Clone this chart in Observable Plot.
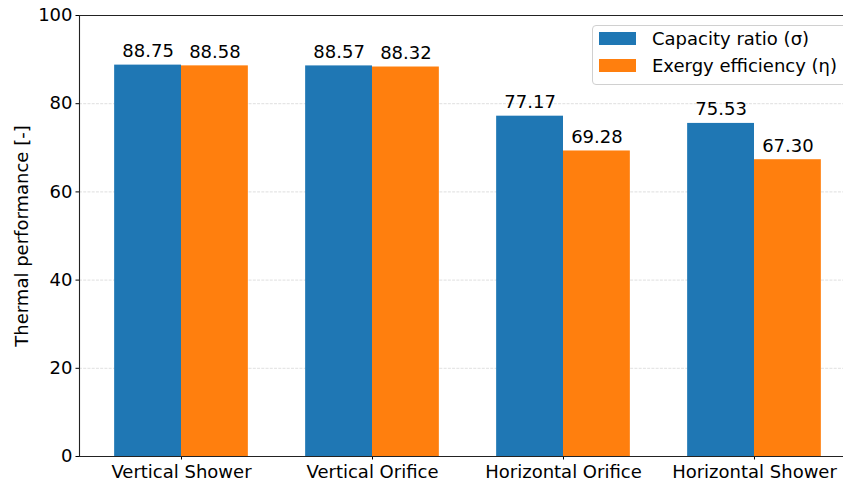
<!DOCTYPE html>
<html>
<head>
<meta charset="utf-8">
<script src="https://cdn.jsdelivr.net/npm/d3@7"></script>
<script src="https://cdn.jsdelivr.net/npm/@observablehq/plot@0.6"></script>
<style>
  html, body { margin: 0; padding: 0; background: #fff; overflow: hidden; }
  #wrap { position: relative; width: 843px; height: 481px; font-family: "DejaVu Sans", sans-serif; }
  #legend { position: absolute; left: 592px; top: 25px; width: 270px; height: 60px;
    border: 1px solid #d0d0d0; border-radius: 4px; background: rgba(255,255,255,0.8); box-sizing: border-box; }
  .row { position: absolute; left: 6px; height: 14px; font-size: 18px; color: #000; white-space: nowrap; }
  .sw { position: absolute; left: 0; top: 0; width: 37px; height: 13px; }
  .lab { position: absolute; left: 53px; top: -3px; line-height: 20px; }
</style>
</head>
<body>
<div id="wrap"></div>
<script>
const categories = ["Vertical Shower", "Vertical Orifice", "Horizontal Orifice", "Horizontal Shower"];
const seriesNames = ["Capacity ratio (σ)", "Exergy efficiency (η)"];
const capacityRatio = [88.75, 88.57, 77.17, 75.53];
const exergyEfficiency = [88.58, 88.32, 69.28, 67.30];
const yTicks = [0, 20, 40, 60, 80, 100];
const colors = ["#1f77b4", "#ff7f0e"];
const barWidth = 0.35;

const rows = [];
categories.forEach((c, i) => {
  rows.push({cat: c, i, s: 0, value: capacityRatio[i]});
  rows.push({cat: c, i, s: 1, value: exergyEfficiency[i]});
});

const FS = 18;

const chart = Plot.plot({
  width: 843,
  height: 481,
  marginLeft: 79,
  marginRight: 0,
  marginTop: 15,
  marginBottom: 25,
  style: {fontFamily: "DejaVu Sans", fontSize: FS + "px", color: "#000", background: "transparent"},
  x: {domain: [-0.534, 3.466], axis: null},
  y: {domain: [0, 100], axis: null},
  marks: [
    Plot.ruleY([20, 40, 60, 80], {stroke: "#b0b0b0", strokeOpacity: 0.5, strokeWidth: 0.8, strokeDasharray: "2.96,1.28"}),
    Plot.rectY(rows, {
      x1: d => d.i + (d.s === 0 ? -barWidth : 0),
      x2: d => d.i + (d.s === 0 ? 0 : barWidth),
      y1: 0, y2: "value",
      fill: d => colors[d.s]
    }),
    Plot.text(rows, {
      x: d => d.i + (d.s === 0 ? -barWidth / 2 : barWidth / 2),
      y: "value",
      text: d => d.value.toFixed(2),
      lineAnchor: "bottom",
      dy: -8,
      fill: "#000",
      fontSize: FS
    }),
    Plot.axisY({ticks: yTicks, tickSize: 3.5, tickPadding: 3.5, fontSize: FS, stroke: "#000", fill: "#000",
      label: "Thermal performance [-]", labelAnchor: "center", labelArrow: "none", labelOffset: 64}),
    Plot.axisX({ticks: categories.map((c, i) => i), tickFormat: i => categories[i], tickSize: 3.5, tickPadding: 5,
      fontSize: FS, stroke: "#000", fill: "#000", label: null}),
    Plot.ruleX([-0.534], {stroke: "#222", strokeWidth: 1.1}),
    Plot.ruleY([0, 100], {stroke: "#222", strokeWidth: 1.1})
  ]
});

const wrap = document.getElementById("wrap");
wrap.appendChild(chart);

const legend = document.createElement("div");
legend.id = "legend";
seriesNames.forEach((name, k) => {
  const r = document.createElement("div");
  r.className = "row";
  r.style.top = (k === 0 ? 6 : 33) + "px";
  r.innerHTML = `<div class="sw" style="background:${colors[k]}"></div><div class="lab">${name}</div>`;
  legend.appendChild(r);
});
wrap.appendChild(legend);
</script>
</body>
</html>
